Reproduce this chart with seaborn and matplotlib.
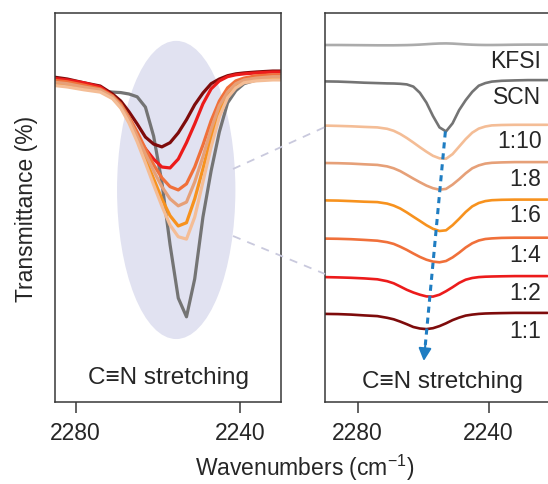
import matplotlib
matplotlib.use("Agg")
import numpy as np
import pandas as pd
import seaborn as sns
import matplotlib.pyplot as plt
from matplotlib.patches import Ellipse
from matplotlib.lines import Line2D

# ---- FTIR spectra, C≡N stretching region ----
wavenumber = [2290, 2286, 2282, 2278, 2274, 2271, 2269, 2267, 2265, 2263, 2261, 2259, 2257,
              2255, 2253, 2251, 2249, 2247, 2245, 2243, 2241, 2239, 2236, 2232, 2228, 2222]

kfsi = [95.0, 95.0, 94.9, 94.8, 94.7, 94.7, 94.7, 94.8, 94.9, 95.1, 95.4, 95.8, 96.2,
        96.5, 96.6, 96.4, 96.0, 95.6, 95.3, 95.1, 95.0, 95.0, 95.1, 95.3, 95.4, 95.4]
scn = [94.6, 94.4, 93.9, 93.3, 92.9, 92.6, 92.5, 92.2, 91.6, 89.4, 83.2, 73.4, 60.0,
       48.6, 44.6, 52.7, 65.9, 75.8, 84.1, 90.3, 92.9, 94.4, 95.2, 95.6, 95.9, 95.9]
ratio_1_10 = [94.4, 94.1, 93.7, 93.1, 92.6, 91.2, 89.2, 86.0, 82.0, 77.5, 72.8, 68.3, 64.2,
              61.7, 61.2, 65.9, 73.4, 80.9, 87.3, 91.4, 93.5, 94.6, 95.0, 95.2, 95.2, 95.2]
ratio_1_8 = [95.0, 94.8, 94.4, 93.7, 93.1, 91.6, 89.7, 86.9, 83.2, 79.4, 75.8, 72.4, 69.8,
             68.3, 69.1, 73.4, 78.8, 84.7, 89.7, 92.6, 94.4, 95.2, 95.6, 95.9, 95.9, 95.9]
ratio_1_6 = [94.6, 94.4, 93.9, 93.3, 92.9, 91.4, 89.4, 86.5, 82.6, 78.3, 74.1, 69.8, 66.2,
             64.0, 64.7, 69.8, 76.2, 83.0, 88.6, 92.0, 93.9, 94.8, 95.2, 95.4, 95.4, 95.4]
ratio_1_4 = [95.4, 95.2, 94.8, 94.1, 93.3, 91.8, 90.1, 87.3, 84.1, 80.5, 77.1, 74.3, 72.4,
             71.7, 73.0, 76.6, 81.3, 86.5, 90.7, 93.5, 95.0, 95.6, 96.1, 96.3, 96.3, 96.3]
ratio_1_2 = [95.9, 95.6, 95.2, 94.6, 93.7, 91.8, 89.7, 86.5, 83.2, 80.5, 78.3, 76.6, 76.4,
             78.3, 81.8, 85.8, 90.1, 93.3, 95.0, 95.9, 96.3, 96.5, 96.7, 96.9, 96.9, 96.9]
ratio_1_1 = [96.1, 95.9, 95.4, 94.6, 93.9, 92.2, 90.7, 88.4, 85.8, 83.0, 81.5, 80.9, 81.8,
             83.9, 86.7, 89.9, 92.4, 94.4, 95.4, 96.1, 96.5, 96.7, 96.9, 97.1, 97.1, 97.1]

samples = ["KFSI", "SCN", "1:10", "1:8", "1:6", "1:4", "1:2", "1:1"]
spectra = [kfsi, scn, ratio_1_10, ratio_1_8, ratio_1_6, ratio_1_4, ratio_1_2, ratio_1_1]
# vertical shift of each trace in the stacked panel
stack_offset = [262, 226, 182, 144, 107, 68, 29, -8]
xticks = [2280, 2240]

colors = {"KFSI": "#ababab", "SCN": "#747474", "1:10": "#f4bd96", "1:8": "#e6a078",
          "1:6": "#f7921e", "1:4": "#f0703a", "1:2": "#ec1b1b", "1:1": "#7e0b0b"}

rows = []
for name, vals, off in zip(samples, spectra, stack_offset):
    for w, t in zip(wavenumber, vals):
        rows.append({"wavenumber": w, "T": t, "stacked": t + off, "sample": name})
df = pd.DataFrame(rows)

# ---- style ----
sns.set_style("ticks")
plt.rcParams["font.family"] = ["Liberation Sans", "DejaVu Sans"]
plt.rcParams["mathtext.fontset"] = "custom"
plt.rcParams["mathtext.rm"] = "Liberation Sans"
plt.rcParams["mathtext.it"] = "Liberation Sans:italic"
spine_color = "#383838"

fig = plt.figure(figsize=(5.48, 4.85), dpi=100)
W, H = 548.0, 485.0
ax1 = fig.add_axes([55 / W, 1 - 403 / H, 226 / W, 389 / H])
ax2 = fig.add_axes([325 / W, 1 - 403 / H, 229 / W, 389 / H])

# ---- left: overlaid spectra ----
ax1.add_patch(Ellipse((2255.5, 71.7), 28.8, 63.7, facecolor="#e1e2f1", edgecolor="none", zorder=0))
left_order = ["SCN", "1:1", "1:2", "1:4", "1:6", "1:8", "1:10"]
sns.lineplot(data=df[df["sample"].isin(left_order)], x="wavenumber", y="T", hue="sample",
             hue_order=left_order, palette=colors, estimator=None, sort=False,
             lw=2.3, legend=False, ax=ax1)
ax1.set_xlim(2285, 2230)
ax1.set_ylim(26.4, 109.5)
ax1.text(0.5, 0.064, "C≡N stretching", transform=ax1.transAxes, ha="center", va="center",
         fontsize=17.5)

# ---- right: stacked spectra ----
sns.lineplot(data=df, x="wavenumber", y="stacked", hue="sample", hue_order=samples,
             palette=colors, estimator=None, sort=False, lw=1.9, legend=False, ax=ax2)
ax2.set_xlim(2290, 2220)
ax2.set_ylim(0, 389)
for name, off in zip(samples, stack_offset):
    ax2.text(0.945, off + 80, name, transform=ax2.get_yaxis_transform(), ha="right",
             va="center", fontsize=16.5)
ax2.text(0.515, 0.054, "C≡N stretching", transform=ax2.transAxes, ha="center", va="center",
         fontsize=17.5)

# peak-shift arrow starting at the SCN minimum
i_min = int(np.argmin(scn))
x0, y0 = wavenumber[i_min] + 0.2, scn[i_min] + stack_offset[1]
x1, y1 = 2259.8, 41
blue = "#1f7dc2"
frac = 0.93
xm, ym = x0 + (x1 - x0) * frac, y0 + (y1 - y0) * frac
ax2.plot([x0, xm], [y0, ym], color=blue, lw=2.2, ls=(0, (2.0, 1.6)), zorder=5)
ax2.annotate("", xy=(x1, y1), xytext=(xm + (x0 - x1) * 0.01, ym + (y0 - y1) * 0.01),
             arrowprops=dict(arrowstyle="-|>,head_length=0.75,head_width=0.38",
                             color=blue, lw=1.5, shrinkA=0, shrinkB=0), zorder=6)

for ax in (ax1, ax2):
    ax.set_xticks(xticks)
    ax.set_yticks([])
    ax.set_xlabel("")
    ax.set_ylabel("")
    ax.tick_params(axis="x", direction="out", length=8, width=1.1, pad=6,
                   labelsize=16.5, color=spine_color)
    for s in ax.spines.values():
        s.set_color(spine_color)
        s.set_linewidth(1.1)
ax2.spines["right"].set_visible(False)

ax1.set_ylabel("Transmittance (%)", fontsize=16.5, labelpad=12)

fig.text(305 / W, 1 - 468 / H, "Wavenumbers (cm$^{-1}$)", ha="center", va="center",
         fontsize=16.5)

# dashed guides from the highlighted region to the stacked panel
dash_kw = dict(color="#c9c9dd", lw=1.3, ls=(0, (4.5, 4)), transform=fig.transFigure, zorder=10)
fig.add_artist(Line2D([233 / W, 325 / W], [1 - 170 / H, 1 - 128 / H], **dash_kw))
fig.add_artist(Line2D([233 / W, 325 / W], [1 - 237 / H, 1 - 275 / H], **dash_kw))

fig.savefig("out.png", dpi=100)
